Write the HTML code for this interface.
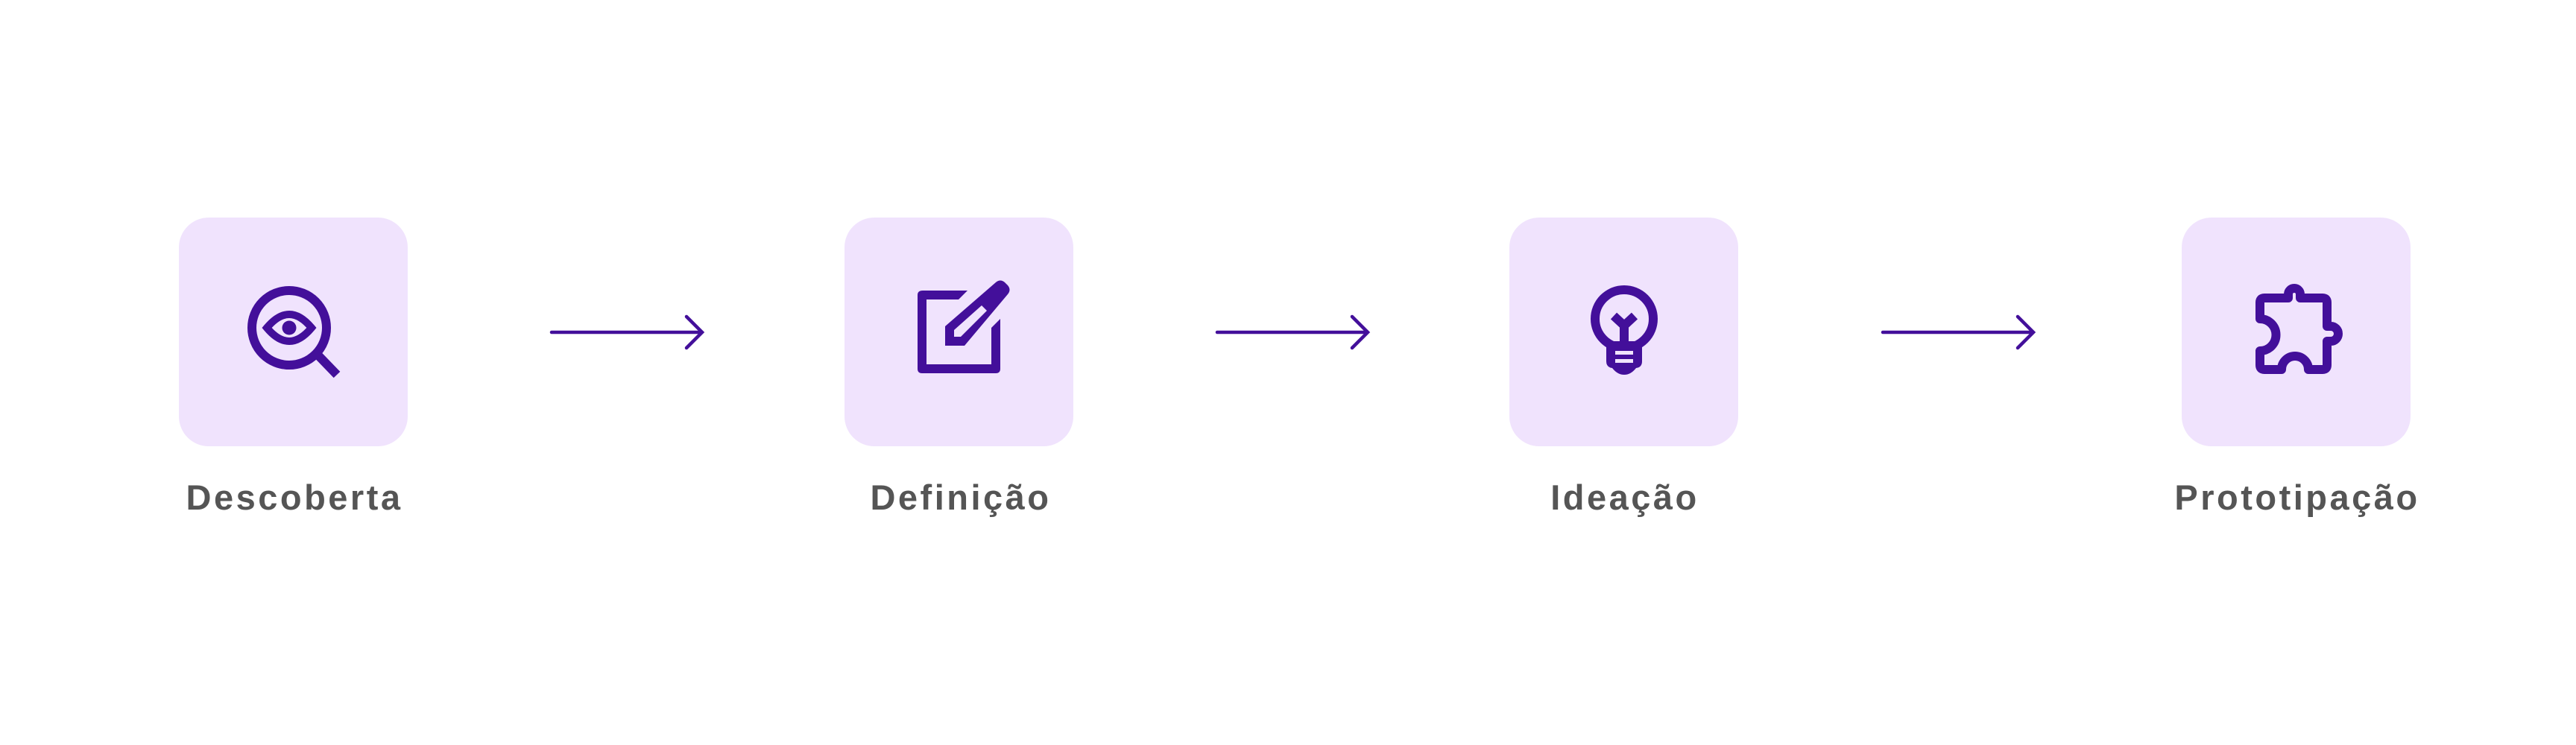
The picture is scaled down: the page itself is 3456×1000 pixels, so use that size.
<!DOCTYPE html>
<html><head><meta charset="utf-8"><style>
html,body{margin:0;padding:0;background:#fff;}
body{width:3456px;height:1000px;position:relative;overflow:hidden;font-family:"Liberation Sans",sans-serif;}
.box{position:absolute;top:292px;width:307px;height:307px;border-radius:40px;background:#f0e3fd;}
.lbl{position:absolute;top:640px;width:500px;text-align:center;font-weight:bold;font-size:47px;letter-spacing:3.5px;color:#555;line-height:56px;}
svg{position:absolute;left:0;top:0;}
</style></head><body>
<div class="box" style="left:240px"></div>
<div class="box" style="left:1133px"></div>
<div class="box" style="left:2025px"></div>
<div class="box" style="left:2927px"></div>
<div class="lbl" style="left:145px">Descoberta</div>
<div class="lbl" style="left:1039px">Definição</div>
<div class="lbl" style="left:1930px">Ideação</div>
<div class="lbl" style="left:2832px">Prototipação</div>
<svg width="3456" height="1000" viewBox="0 0 3456 1000">
<g stroke="#430f9a" stroke-width="4.5" fill="none" stroke-linecap="round">
<path d="M740 446H941M921 425L942 446L921 467"/>
<path d="M1633 446H1834M1814 425L1835 446L1814 467"/>
<path d="M2526 446H2727M2707 425L2728 446L2707 467"/>
</g>
<g fill="none" stroke="#430f9a" stroke-width="12">
<circle cx="388" cy="440" r="50"/>
<path d="M424 474L452 503"/>
<path d="M358 440Q388 404 418 440Q388 476 358 440Z" stroke-width="10"/>
</g>
<circle cx="388" cy="440" r="9.5" fill="#430f9a"/>
<g fill="#430f9a">
<path d="M1238 390H1298L1286 402H1243V489H1330V440L1342 428V495Q1342 501 1336 501H1237Q1231 501 1231 495V396Q1231 390 1238 390Z"/>
<path d="M1336 379Q1342 374 1348 379L1352 383Q1357 389 1352 395L1294 464H1268V438Z M1280 443V452H1289L1324 417L1317 410Z" fill-rule="evenodd"/>
</g>
<g fill="none" stroke="#430f9a" stroke-width="12">
<circle cx="2179" cy="428" r="39"/>
<path d="M2179 458V437L2165 424M2179 437L2193 424"/>
</g>
<path d="M2155 458H2203V485Q2203 493 2195 494Q2188 503 2179 503Q2170 503 2163 494Q2155 493 2155 485Z" fill="#430f9a"/>
<rect x="2167" y="471" width="24" height="5" fill="#f0e3fd"/>
<rect x="2167" y="482" width="24" height="5" fill="#f0e3fd"/>
<path d="M3038 400H3070V395A8 8 0 0 1 3086 395V400H3116Q3122 400 3122 406V438H3127A10 10 0 0 1 3127 458H3122V490Q3122 496 3116 496H3097A16 16 0 0 0 3061 496H3038Q3032 496 3032 490V471A19 19 0 0 0 3032 428V406Q3032 400 3038 400Z" fill="none" stroke="#430f9a" stroke-width="12" stroke-linejoin="round"/>
</svg>
</body></html>
